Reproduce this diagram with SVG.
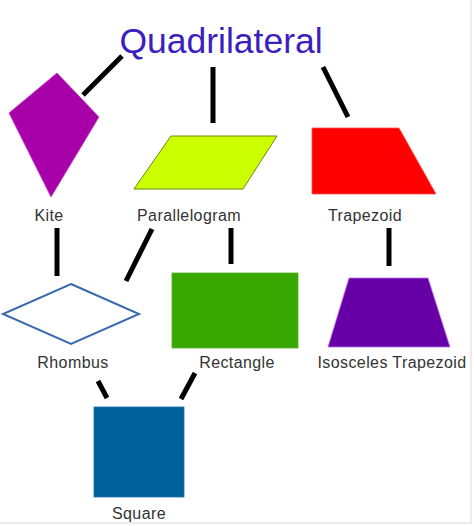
<svg xmlns="http://www.w3.org/2000/svg" width="474" height="526" viewBox="0 0 474 526">
<style>
.lbl{font-family:"Liberation Sans",Arial,sans-serif;font-size:16px;fill:#333;text-anchor:middle;letter-spacing:0.4px}
.title{font-family:"Liberation Sans",Arial,sans-serif;font-size:35.5px;fill:#3b20bf;text-anchor:middle}
.conn line{stroke:#000;stroke-width:5;stroke-linecap:butt}
</style>
<rect x="0" y="0" width="474" height="526" fill="#fff"/>
<line x1="471" y1="0" x2="471" y2="523" stroke="#ececec" stroke-width="2"/>
<line x1="0" y1="523" x2="472" y2="523" stroke="#ececec" stroke-width="2"/>
<g id="quadrilateral"><text class="title" x="221" y="53">Quadrilateral</text></g>
<g class="conn" id="connectors">
<line x1="122" y1="56" x2="83" y2="95"/>
<line x1="213" y1="67" x2="213" y2="123"/>
<line x1="323" y1="67" x2="348" y2="117"/>
<line x1="57" y1="228" x2="57" y2="276"/>
<line x1="152" y1="229" x2="126" y2="281"/>
<line x1="231" y1="228" x2="231" y2="264"/>
<line x1="389" y1="228" x2="389" y2="266"/>
<line x1="98" y1="381" x2="107" y2="398"/>
<line x1="195" y1="373" x2="181" y2="399"/>
</g>
<g id="kite">
<polygon points="57,73 99,117 51,197 9,113" fill="#a800a8" stroke="#c040c0" stroke-width="0.8"/>
<text class="lbl" x="49" y="221">Kite</text>
</g>
<g id="parallelogram">
<polygon points="171,136 277,136 243,189 134,189" fill="#ccff00" stroke="#6a8a10" stroke-width="1"/>
<text class="lbl" x="189" y="221">Parallelogram</text>
</g>
<g id="trapezoid">
<polygon points="312,128 399,128 436,194 312,194" fill="#ff0000" stroke="#ff5050" stroke-width="0.8"/>
<text class="lbl" x="365" y="221">Trapezoid</text>
</g>
<g id="rhombus">
<polygon points="71,284 139,314 71,344 3,314" fill="#fff" stroke="#3a6aae" stroke-width="2"/>
<text class="lbl" x="73" y="368">Rhombus</text>
</g>
<g id="rectangle">
<rect x="172" y="273" width="126" height="75" fill="#38a800" stroke="#50b020" stroke-width="0.8"/>
<text class="lbl" x="237" y="368">Rectangle</text>
</g>
<g id="isosceles-trapezoid">
<polygon points="349,278 428,278 450,347 328,347" fill="#6600a6" stroke="#c070f0" stroke-width="0.8"/>
<text class="lbl" x="392" y="368">Isosceles Trapezoid</text>
</g>
<g id="square">
<rect x="94" y="407" width="90" height="90" fill="#00609a" stroke="#2070a8" stroke-width="0.8"/>
<text class="lbl" x="139" y="519">Square</text>
</g>
</svg>
